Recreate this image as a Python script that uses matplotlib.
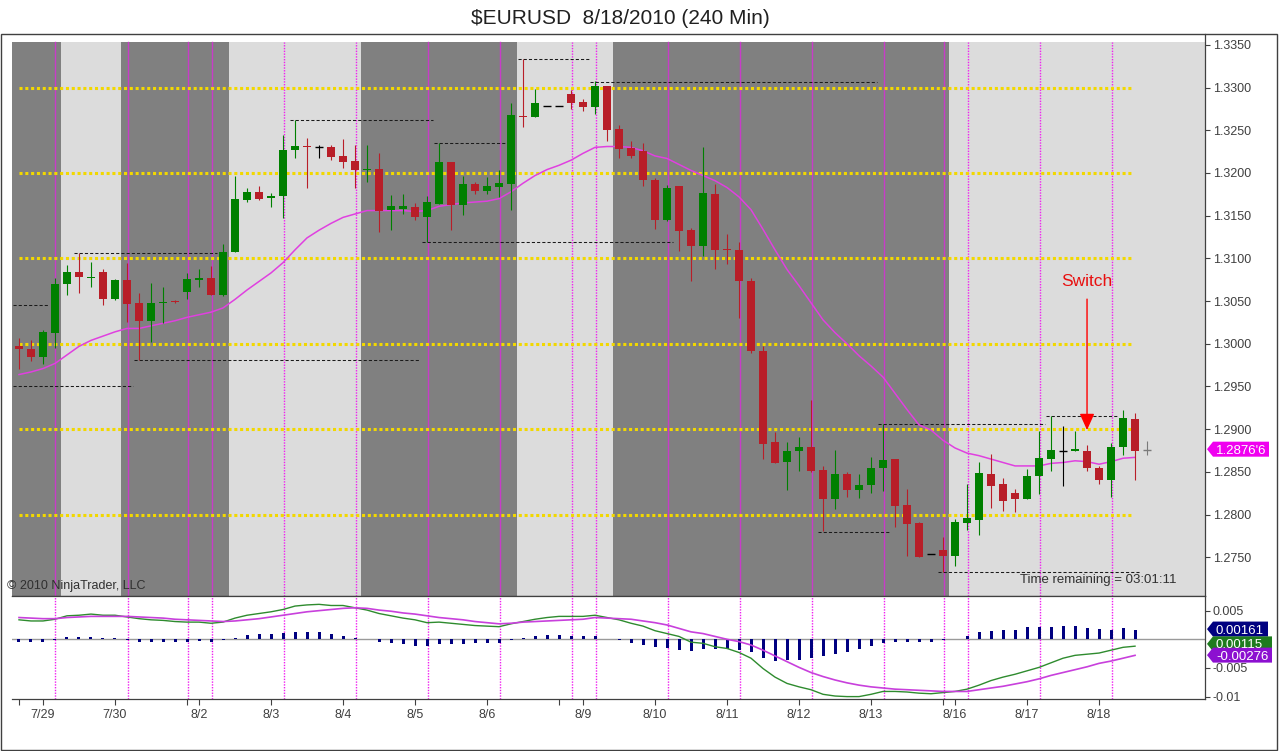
import numpy as np
import matplotlib
matplotlib.use('Agg')
import matplotlib.pyplot as plt
from matplotlib.patches import Polygon, Rectangle
from matplotlib.patches import ArrowStyle

plt.rcParams['font.family'] = ['Liberation Sans', 'DejaVu Sans']

# 240 min bars, EURUSD 7/29 - 8/18/2010 (last one is the bar still forming)
opens = [1.2998, 1.2994, 1.2984, 1.3013, 1.3070, 1.3084, 1.3077, 1.3084, 1.3052, 1.3075,
         1.3048, 1.3027, 1.3048, 1.3050, 1.3061, 1.3075, 1.3077, 1.3057, 1.3107, 1.3168,
         1.3178, 1.3171, 1.3173, 1.3227, 1.3231, 1.3231, 1.3230, 1.3220, 1.3214, 1.3203,
         1.3205, 1.3157, 1.3158, 1.3160, 1.3148, 1.3164, 1.3213, 1.3162, 1.3187, 1.3179,
         1.3184, 1.3187, 1.3267, 1.3266, 1.3279, 1.3279, 1.3292, 1.3283, 1.3277, 1.3302,
         1.3251, 1.3229, 1.3226, 1.3192, 1.3145, 1.3185, 1.3133, 1.3114, 1.3175, 1.3111,
         1.3110, 1.3074, 1.2992, 1.2885, 1.2862, 1.2874, 1.2879, 1.2852, 1.2818, 1.2848,
         1.2829, 1.2835, 1.2854, 1.2865, 1.2811, 1.2790, 1.2754, 1.2759, 1.2752, 1.2790,
         1.2794, 1.2847, 1.2836, 1.2825, 1.2818, 1.2845, 1.2865, 1.2875, 1.2875, 1.2875,
         1.2854, 1.2840, 1.2879, 1.2912, 1.2876]
highs = [1.3007, 1.3005, 1.3016, 1.3077, 1.3092, 1.3106, 1.3096, 1.3087, 1.3076, 1.3095,
         1.3059, 1.3071, 1.3066, 1.3051, 1.3083, 1.3088, 1.3091, 1.3117, 1.3196, 1.3183,
         1.3185, 1.3177, 1.3244, 1.3262, 1.3241, 1.3233, 1.3233, 1.3240, 1.3233, 1.3233,
         1.3224, 1.3174, 1.3175, 1.3165, 1.3173, 1.3235, 1.3213, 1.3196, 1.3190, 1.3195,
         1.3203, 1.3282, 1.3333, 1.3298, 1.3279, 1.3279, 1.3297, 1.3287, 1.3308, 1.3302,
         1.3256, 1.3237, 1.3235, 1.3194, 1.3186, 1.3185, 1.3136, 1.3230, 1.3187, 1.3129,
         1.3119, 1.3077, 1.2997, 1.2897, 1.2885, 1.2891, 1.2934, 1.2857, 1.2876, 1.2850,
         1.2847, 1.2867, 1.2906, 1.2865, 1.2830, 1.2791, 1.2754, 1.2774, 1.2795, 1.2836,
         1.2862, 1.2871, 1.2843, 1.2830, 1.2853, 1.2898, 1.2915, 1.2904, 1.2898, 1.2881,
         1.2857, 1.2884, 1.2922, 1.2919, 1.2886]
lows = [1.2970, 1.2980, 1.2976, 1.2995, 1.3057, 1.3059, 1.3067, 1.3046, 1.3051, 1.3026,
        1.2981, 1.3002, 1.3024, 1.3048, 1.3053, 1.3067, 1.3057, 1.3056, 1.3107, 1.3166,
        1.3168, 1.3160, 1.3147, 1.3217, 1.3182, 1.3217, 1.3215, 1.3206, 1.3182, 1.3189,
        1.3131, 1.3133, 1.3152, 1.3145, 1.3119, 1.3164, 1.3133, 1.3151, 1.3175, 1.3175,
        1.3172, 1.3157, 1.3254, 1.3265, 1.3279, 1.3279, 1.3275, 1.3273, 1.3269, 1.3237,
        1.3217, 1.3217, 1.3185, 1.3135, 1.3144, 1.3109, 1.3073, 1.3103, 1.3088, 1.3094,
        1.3030, 1.2989, 1.2865, 1.2860, 1.2829, 1.2851, 1.2850, 1.2781, 1.2807, 1.2821,
        1.2820, 1.2825, 1.2828, 1.2786, 1.2752, 1.2750, 1.2754, 1.2733, 1.2740, 1.2782,
        1.2776, 1.2808, 1.2804, 1.2803, 1.2818, 1.2824, 1.2851, 1.2833, 1.2875, 1.2851,
        1.2836, 1.2821, 1.2870, 1.2841, 1.2870]
closes = [1.2994, 1.2984, 1.3014, 1.3070, 1.3084, 1.3078, 1.3078, 1.3052, 1.3075, 1.3047,
          1.3027, 1.3048, 1.3049, 1.3049, 1.3076, 1.3077, 1.3057, 1.3108, 1.3169, 1.3178,
          1.3170, 1.3173, 1.3227, 1.3232, 1.3230, 1.3231, 1.3219, 1.3213, 1.3204, 1.3205,
          1.3156, 1.3161, 1.3161, 1.3148, 1.3166, 1.3213, 1.3162, 1.3187, 1.3179, 1.3185,
          1.3188, 1.3268, 1.3266, 1.3282, 1.3279, 1.3279, 1.3282, 1.3277, 1.3302, 1.3250,
          1.3228, 1.3220, 1.3192, 1.3145, 1.3183, 1.3132, 1.3114, 1.3177, 1.3110, 1.3110,
          1.3073, 1.2991, 1.2883, 1.2861, 1.2875, 1.2879, 1.2851, 1.2818, 1.2848, 1.2829,
          1.2835, 1.2855, 1.2864, 1.2810, 1.2789, 1.2750, 1.2754, 1.2752, 1.2791, 1.2796,
          1.2849, 1.2834, 1.2816, 1.2818, 1.2845, 1.2866, 1.2876, 1.2875, 1.2877, 1.2855,
          1.2840, 1.2879, 1.2913, 1.2875, 1.2876]

# moving average (magenta line)
ma = [1.2964, 1.2967, 1.2971, 1.2977, 1.2987, 1.2997, 1.3004, 1.3009, 1.3014, 1.3018,
      1.3018, 1.3021, 1.3024, 1.3027, 1.3031, 1.3034, 1.3037, 1.3042, 1.3052, 1.3063,
      1.3073, 1.3083, 1.3095, 1.3110, 1.3124, 1.3133, 1.3141, 1.3148, 1.3152, 1.3156,
      1.3156, 1.3156, 1.3156, 1.3155, 1.3156, 1.3161, 1.3163, 1.3165, 1.3166, 1.3167,
      1.3170, 1.3178, 1.3188, 1.3197, 1.3204, 1.3209, 1.3215, 1.3223, 1.3230, 1.3231,
      1.3231, 1.3230, 1.3226, 1.3220, 1.3217, 1.3210, 1.3203, 1.3197, 1.3191, 1.3183,
      1.3172, 1.3157, 1.3134, 1.3110, 1.3087, 1.3068, 1.3048, 1.3028, 1.3013, 1.3000,
      1.2986, 1.2974, 1.2961, 1.2942, 1.2923, 1.2905, 1.2899, 1.2887, 1.2878, 1.2872,
      1.2869, 1.2865, 1.2861, 1.2857, 1.2857, 1.2857, 1.2860, 1.2861, 1.2863, 1.2862,
      1.2859, 1.2862, 1.2866, 1.2867]

# MACD panel
macd = [0.0034, 0.0032, 0.0032, 0.0035, 0.0041, 0.0042, 0.0044, 0.0042, 0.0042, 0.0039,
        0.0036, 0.0034, 0.0033, 0.0031, 0.0030, 0.0030, 0.0028, 0.0030, 0.0037, 0.0042,
        0.0045, 0.0048, 0.0052, 0.0058, 0.0060, 0.0061, 0.0059, 0.0059, 0.0055, 0.0051,
        0.0045, 0.0041, 0.0037, 0.0034, 0.0029, 0.0030, 0.0028, 0.0026, 0.0024, 0.0023,
        0.0022, 0.0027, 0.0031, 0.0035, 0.0038, 0.0040, 0.0040, 0.0040, 0.0042, 0.0038,
        0.0034, 0.0028, 0.0023, 0.0015, 0.0010, 0.0005, -0.0005, -0.0007, -0.0013, -0.0016,
        -0.0023, -0.0033, -0.0051, -0.0066, -0.0077, -0.0083, -0.0088, -0.0096, -0.0099, -0.0100,
        -0.0100, -0.0096, -0.0091, -0.0091, -0.0092, -0.0094, -0.0095, -0.0093, -0.0091, -0.0087,
        -0.0080, -0.0072, -0.0066, -0.0061, -0.0055, -0.0049, -0.0041, -0.0033, -0.0028, -0.0026,
        -0.0024, -0.0019, -0.0014, -0.0012]
macd_avg = [0.0038, 0.0037, 0.0036, 0.0036, 0.0038, 0.0039, 0.0040, 0.0040, 0.0040, 0.0040,
            0.0039, 0.0038, 0.0037, 0.0035, 0.0034, 0.0033, 0.0032, 0.0031, 0.0032, 0.0034,
            0.0036, 0.0039, 0.0042, 0.0045, 0.0048, 0.0050, 0.0052, 0.0054, 0.0055, 0.0054,
            0.0051, 0.0049, 0.0046, 0.0044, 0.0041, 0.0038, 0.0036, 0.0034, 0.0031, 0.0029,
            0.0027, 0.0028, 0.0030, 0.0031, 0.0032, 0.0033, 0.0034, 0.0035, 0.0038, 0.0037,
            0.0036, 0.0035, 0.0032, 0.0029, 0.0025, 0.0019, 0.0013, 0.0010, 0.0005, 0.0000,
            -0.0004, -0.0010, -0.0019, -0.0029, -0.0039, -0.0049, -0.0058, -0.0065, -0.0071, -0.0076,
            -0.0080, -0.0083, -0.0085, -0.0087, -0.0088, -0.0089, -0.0090, -0.0091, -0.0091, -0.0091,
            -0.0088, -0.0085, -0.0082, -0.0078, -0.0074, -0.0069, -0.0063, -0.0058, -0.0053, -0.0048,
            -0.0042, -0.0038, -0.0033, -0.0028]
macd_diff = [-0.0004, -0.0005, -0.0005, -0.0001, 0.0004, 0.0004, 0.0004, 0.0002, 0.0002, -0.0001,
             -0.0004, -0.0004, -0.0004, -0.0004, -0.0004, -0.0003, -0.0004, -0.0001, 0.0003, 0.0008,
             0.0009, 0.0009, 0.0011, 0.0013, 0.0013, 0.0012, 0.0009, 0.0005, 0.0002, 0.0000,
             -0.0004, -0.0007, -0.0009, -0.0011, -0.0012, -0.0008, -0.0009, -0.0008, -0.0007, -0.0006,
             -0.0006, -0.0001, 0.0002, 0.0005, 0.0007, 0.0008, 0.0006, 0.0006, 0.0006, 0.0001,
             -0.0002, -0.0006, -0.0010, -0.0014, -0.0015, -0.0019, -0.0020, -0.0017, -0.0017, -0.0017,
             -0.0019, -0.0023, -0.0032, -0.0037, -0.0036, -0.0036, -0.0033, -0.0030, -0.0026, -0.0022,
             -0.0017, -0.0012, -0.0007, -0.0005, -0.0005, -0.0004, -0.0004, -0.0002, 0.0000, 0.0006,
             0.0012, 0.0015, 0.0016, 0.0017, 0.0021, 0.0022, 0.0022, 0.0023, 0.0023, 0.0020,
             0.0018, 0.0017, 0.0020, 0.0016]

date_labels = ['7/29', '7/30', '8/2', '8/3', '8/4', '8/5', '8/6', '8/9',
               '8/10', '8/11', '8/12', '8/13', '8/16', '8/17', '8/18']
date_bars = [2, 8, 15, 21, 27, 33, 39, 47, 53, 59, 65, 71, 78, 84, 90]
blank_tick_bars = [0, 14, 45, 77]
session_lines = [3, 9, 14, 16, 22, 28, 34, 40, 46, 48, 54, 60, 66, 72, 77, 79, 85, 91]
dark_sessions = [(-0.6, 3.5), (8.5, 17.5), (28.5, 41.5), (49.5, 77.5)]
pivot_levels = [1.28, 1.29, 1.30, 1.31, 1.32, 1.33]
# prior session high / low lines: start bar, end bar, price
prior_lines = [(-0.5, 2.5, 1.3045), (-0.5, 9.5, 1.2951), (4.6, 16.5, 1.3106),
               (9.6, 33.4, 1.2981), (22.6, 34.5, 1.3262), (34.6, 40.5, 1.3235),
               (41.6, 47.5, 1.3333), (47.6, 71.5, 1.3307), (33.6, 54.5, 1.3119),
               (66.6, 72.5, 1.2780), (71.6, 85.5, 1.2906), (85.6, 91.5, 1.2915),
               (76.6, 93.5, 1.2733)]
last_price = 1.28766
last_label = "1.2876'6"
switch_bar = 89
switch_tip = 1.2899

# ---- layout (pixel based, 1280 x 751) ----
W, H = 1280, 751
fig = plt.figure(figsize=(W / 100, H / 100), dpi=100)
fig.patch.set_facecolor('white')


def fx(px):
    return px / W


def fy(py):
    return 1 - py / H


ax = fig.add_axes([fx(12), fy(596), fx(1205) - fx(12), fy(34) - fy(596)])
ax2 = fig.add_axes([fx(12), fy(699), fx(1205) - fx(12), fy(596) - fy(699)])

xlo, xhi = -0.583, 98.83
ylo, yhi = 1.270468, 1.336276
shade_top = 1.33534
ax.set_xlim(xlo, xhi)
ax.set_ylim(ylo, yhi)
ax.set_facecolor('white')

frac = (shade_top - ylo) / (yhi - ylo)
ax.axvspan(xlo, xhi, ymax=frac, color='#DCDCDC', lw=0, zorder=0)
for a, b in dark_sessions:
    ax.axvspan(max(a, xlo), b, ymax=frac, color='#808080', lw=0, zorder=0)

# session break lines; shifted half a pixel so a 1px line sits on one pixel column
half_px = 0.5 * (xhi - xlo) / 1193
for b in session_lines:
    in_dark = any(a < b < c for a, c in dark_sessions)
    if in_dark:
        ax.axvline(b + half_px, ymax=frac, color='#C83CC8', lw=1.0, zorder=1.5)
    else:
        ax.axvline(b + half_px, ymax=frac, color='#F020F0', lw=1.0, ls=(0, (1, 1)), zorder=1.5)
    ax2.axvline(b + half_px, color='#F020F0', lw=1.0, ls=(0, (1, 1)), zorder=1.5)

# pivot levels
ax.hlines(pivot_levels, 0, 92.8, color='#F2D800', lw=2.2, linestyles=(0, (1, 0.9)), zorder=2)

# prior high / low dashed lines
for a, b, p in prior_lines:
    ax.hlines(p, a, b, color='#1A1A1A', lw=0.75, linestyles=(0, (3, 2)), zorder=2)

# moving average
ax.plot(range(len(ma)), ma, color='#E040E0', lw=1.1, zorder=3)

# candles
up_col, down_col = '#008000', '#B81E28'
n = len(opens)
for i in range(n):
    o, h, l, c = opens[i], highs[i], lows[i], closes[i]
    if i == n - 1:
        col = '#7A7A7A'
    elif c > o:
        col = up_col
    elif c < o:
        col = down_col
    else:
        col = 'black'
    ax.vlines(i, l, h, color=col, lw=0.8, zorder=4)
    if c == o:
        ax.hlines(o, i - 0.32, i + 0.32, color=col, lw=1.0, zorder=4)
    else:
        ax.bar(i, max(abs(c - o), 0.00012), bottom=min(o, c), width=0.6,
               color=col, lw=0, zorder=4)

# switch annotation
ax.annotate('', xy=(switch_bar, switch_tip), xytext=(switch_bar, 1.30523),
            arrowprops=dict(arrowstyle=ArrowStyle('-|>', head_length=1.0, head_width=0.45),
                            mutation_scale=10, color='#FF0000', lw=1, shrinkA=0, shrinkB=0),
            zorder=6)
ax.text(switch_bar, 1.30746, 'Switch', color='#E81010', fontsize=12.5,
        ha='center', va='center_baseline', zorder=6)

# price axis
ax.yaxis.tick_right()
yt = np.arange(1.275, 1.3351, 0.005)
ax.set_yticks(yt)
ax.set_yticklabels(['%.4f' % v for v in yt])
ax.tick_params(axis='y', direction='out', length=3.6, pad=2, labelsize=9,
               colors='#404040', width=0.8)
ax.set_xticks([])
for s in ['left', 'top']:
    ax.spines[s].set_visible(False)
for s in ['right', 'bottom']:
    ax.spines[s].set_color('#404040')
    ax.spines[s].set_linewidth(0.9)

# ---- MACD panel ----
ax2.set_xlim(xlo, xhi)
ax2.set_ylim(-0.010419, 0.007557)
ax2.axhline(0, color='#9A9A9A', lw=1, zorder=1)
idx = np.arange(len(macd))
ax2.bar(idx, macd_diff, width=0.25, color='#000080', lw=0, zorder=2)
ax2.plot(idx, macd, color='#2E8B2E', lw=1, zorder=3)
ax2.plot(idx, macd_avg, color='#C840DC', lw=1.2, zorder=3)

ax2.yaxis.tick_right()
ax2.set_yticks([0.005, -0.005, -0.01])
ax2.set_yticklabels(['0.005', '-0.005', '-0.01'])
ax2.tick_params(axis='y', direction='out', length=3.6, pad=2, labelsize=9,
                colors='#404040', width=0.8)
ticks = sorted(date_bars + blank_tick_bars)
labels = [date_labels[date_bars.index(t)] if t in date_bars else '' for t in ticks]
ax2.set_xticks(ticks)
ax2.set_xticklabels(labels)
ax2.tick_params(axis='x', direction='out', length=4.5, pad=3, labelsize=9,
                colors='#404040', width=0.8)
ax2.spines['left'].set_visible(False)
for s in ['right', 'bottom', 'top']:
    ax2.spines[s].set_color('#404040')
    ax2.spines[s].set_linewidth(0.9)


# value tags on the right axis
def tag(axis, value, text, color, width, dy=0):
    y0 = axis.transData.transform((0, value))[1] + dy
    x0 = axis.transAxes.transform((1, 0))[0] + 2
    hh = 7.5
    pts = [(x0, y0), (x0 + 6, y0 + hh), (x0 + width, y0 + hh),
           (x0 + width, y0 - hh), (x0 + 6, y0 - hh)]
    inv = fig.transFigure.inverted()
    fig.add_artist(Polygon(inv.transform(pts), closed=True, facecolor=color,
                           edgecolor='none', transform=fig.transFigure))
    tx, ty = inv.transform((x0 + 9, y0))
    fig.text(tx, ty, text, color='white', fontsize=9.5, ha='left', va='center_baseline')


tag(ax, last_price, last_label, '#F000F0', 62)
tag(ax2, macd_diff[-1] + 0.00001, '0.00161', '#000080', 61, dy=1)
tag(ax2, macd[-1] + 0.00005, '0.00115', '#1E7B1E', 65, dy=2)
tag(ax2, macd_avg[-1] + 0.00004, '-0.00276', '#8C10D0', 65)

# texts
fig.text(fx(620), fy(24), '$EURUSD  8/18/2010 (240 Min)', fontsize=15, color='#202020',
         ha='center', va='baseline')
fig.text(fx(7), fy(589), '\u00a9 2010 NinjaTrader, LLC', fontsize=9, color='#303030',
         ha='left', va='baseline', zorder=10)
fig.text(fx(1020), fy(583), 'Time remaining = 03:01:11', fontsize=9.5, color='#303030',
         ha='left', va='baseline', zorder=10)

# outer frame
fig.add_artist(Rectangle((fx(1), fy(750)), fx(1277) - fx(1), fy(34) - fy(750), fill=False,
                         edgecolor='#404040', lw=1, transform=fig.transFigure))

fig.savefig('out.png', dpi=100)
